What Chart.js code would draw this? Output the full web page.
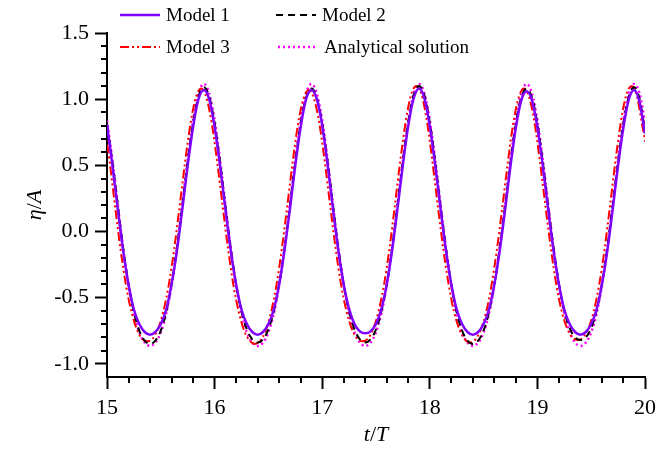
<!DOCTYPE html>
<html>
<head>
<meta charset="utf-8">
<script src="https://cdn.jsdelivr.net/npm/chart.js@4.4.0/dist/chart.umd.min.js"></script>
<style>
  html, body { margin: 0; padding: 0; background: #fff; }
  #wrap { width: 662px; height: 450px; }
</style>
</head>
<body>
<div id="wrap"><canvas id="waveChart" width="662" height="450"></canvas></div>
<script>
// t/T sample times (Model 1, Model 2, analytical)
const times = [
  15, 15.05, 15.1, 15.15, 15.2, 15.25, 15.3, 15.35, 15.4, 15.45, 15.5, 15.55, 15.6, 15.65, 15.7, 15.75, 15.8, 15.85, 15.9, 15.95,
  16, 16.05, 16.1, 16.15, 16.2, 16.25, 16.3, 16.35, 16.4, 16.45, 16.5, 16.55, 16.6, 16.65, 16.7, 16.75, 16.8, 16.85, 16.9, 16.95,
  17, 17.05, 17.1, 17.15, 17.2, 17.25, 17.3, 17.35, 17.4, 17.45, 17.5, 17.55, 17.6, 17.65, 17.7, 17.75, 17.8, 17.85, 17.9, 17.95,
  18, 18.05, 18.1, 18.15, 18.2, 18.25, 18.3, 18.35, 18.4, 18.45, 18.5, 18.55, 18.6, 18.65, 18.7, 18.75, 18.8, 18.85, 18.9, 18.95,
  19, 19.05, 19.1, 19.15, 19.2, 19.25, 19.3, 19.35, 19.4, 19.45, 19.5, 19.55, 19.6, 19.65, 19.7, 19.75, 19.8, 19.85, 19.9, 19.95,
  20
];

// Model 3 is read on its own grid (it runs a little ahead of the others)
const timesModel3 = [
  14.975, 15.025, 15.075, 15.125, 15.175, 15.225, 15.275, 15.325, 15.375, 15.425, 15.475, 15.525, 15.575, 15.625, 15.675, 15.725, 15.775, 15.825, 15.875, 15.925,
  15.975, 16.025, 16.075, 16.125, 16.175, 16.225, 16.275, 16.325, 16.375, 16.425, 16.475, 16.525, 16.575, 16.625, 16.675, 16.725, 16.775, 16.825, 16.875, 16.925,
  16.975, 17.025, 17.075, 17.125, 17.175, 17.225, 17.275, 17.325, 17.375, 17.425, 17.475, 17.525, 17.575, 17.625, 17.675, 17.725, 17.775, 17.825, 17.875, 17.925,
  17.975, 18.025, 18.075, 18.125, 18.175, 18.225, 18.275, 18.325, 18.375, 18.425, 18.475, 18.525, 18.575, 18.625, 18.675, 18.725, 18.775, 18.825, 18.875, 18.925,
  18.975, 19.025, 19.075, 19.125, 19.175, 19.225, 19.275, 19.325, 19.375, 19.425, 19.475, 19.525, 19.575, 19.625, 19.675, 19.725, 19.775, 19.825, 19.875, 19.925,
  19.975, 20.025
];

const model1 = [
  0.81, 0.50, 0.17, -0.145, -0.40, -0.59, -0.70, -0.76, -0.78, -0.76, -0.70, -0.59, -0.40, -0.145, 0.17, 0.50, 0.79, 1.00, 1.07, 1.00,
  0.79, 0.50, 0.17, -0.145, -0.40, -0.59, -0.70, -0.76, -0.78, -0.76, -0.70, -0.59, -0.40, -0.14, 0.17, 0.50, 0.79, 1.00, 1.07, 1.00,
  0.80, 0.505, 0.17, -0.145, -0.40, -0.585, -0.70, -0.755, -0.77, -0.755, -0.70, -0.585, -0.40, -0.14, 0.175, 0.505, 0.80, 1.005, 1.08, 1.005,
  0.795, 0.50, 0.17, -0.145, -0.40, -0.59, -0.70, -0.76, -0.78, -0.76, -0.70, -0.59, -0.40, -0.145, 0.165, 0.495, 0.785, 0.99, 1.06, 0.99,
  0.785, 0.495, 0.165, -0.145, -0.40, -0.59, -0.70, -0.76, -0.78, -0.76, -0.70, -0.59, -0.40, -0.145, 0.17, 0.50, 0.79, 1.00, 1.07, 0.975,
  0.74
];

const model2 = [
  0.80, 0.53, 0.20, -0.125, -0.40, -0.61, -0.75, -0.825, -0.85, -0.825, -0.75, -0.61, -0.40, -0.125, 0.20, 0.53, 0.82, 1.02, 1.09, 1.02,
  0.82, 0.53, 0.195, -0.125, -0.40, -0.605, -0.74, -0.815, -0.84, -0.815, -0.74, -0.605, -0.40, -0.125, 0.195, 0.525, 0.815, 1.01, 1.08, 1.01,
  0.815, 0.53, 0.20, -0.125, -0.40, -0.605, -0.74, -0.815, -0.84, -0.815, -0.74, -0.605, -0.40, -0.125, 0.20, 0.535, 0.83, 1.03, 1.10, 1.03,
  0.825, 0.53, 0.195, -0.125, -0.40, -0.61, -0.75, -0.825, -0.85, -0.825, -0.75, -0.61, -0.40, -0.125, 0.195, 0.525, 0.815, 1.01, 1.08, 1.01,
  0.815, 0.525, 0.195, -0.12, -0.395, -0.60, -0.73, -0.80, -0.82, -0.80, -0.73, -0.60, -0.395, -0.12, 0.20, 0.53, 0.82, 1.02, 1.09, 1.00,
  0.76
];

const model3 = [
  0.82, 0.525, 0.19, -0.13, -0.40, -0.60, -0.735, -0.81, -0.83, -0.81, -0.735, -0.60, -0.40, -0.13, 0.19, 0.52, 0.81, 1.01, 1.08, 1.01,
  0.81, 0.52, 0.19, -0.13, -0.405, -0.61, -0.75, -0.825, -0.85, -0.825, -0.75, -0.61, -0.405, -0.13, 0.19, 0.52, 0.81, 1.00, 1.07, 1.00,
  0.81, 0.52, 0.19, -0.13, -0.40, -0.60, -0.735, -0.81, -0.83, -0.81, -0.735, -0.60, -0.40, -0.13, 0.195, 0.53, 0.825, 1.03, 1.10, 1.03,
  0.825, 0.525, 0.19, -0.13, -0.40, -0.605, -0.74, -0.815, -0.84, -0.815, -0.74, -0.605, -0.40, -0.13, 0.19, 0.52, 0.815, 1.01, 1.08, 1.01,
  0.815, 0.52, 0.19, -0.125, -0.40, -0.60, -0.73, -0.80, -0.82, -0.80, -0.73, -0.60, -0.40, -0.13, 0.195, 0.53, 0.825, 1.03, 1.10, 1.02,
  0.80, 0.58
];

const analytical = [
  0.84, 0.543, 0.205, -0.125, -0.407, -0.621, -0.762, -0.84, -0.865, -0.84, -0.762, -0.621, -0.407, -0.125, 0.205, 0.543, 0.84, 1.042, 1.115, 1.042,
  0.84, 0.543, 0.205, -0.125, -0.407, -0.621, -0.762, -0.84, -0.865, -0.84, -0.762, -0.621, -0.407, -0.125, 0.205, 0.543, 0.84, 1.042, 1.115, 1.042,
  0.84, 0.543, 0.205, -0.125, -0.407, -0.621, -0.762, -0.84, -0.865, -0.84, -0.762, -0.621, -0.407, -0.125, 0.205, 0.543, 0.84, 1.042, 1.115, 1.042,
  0.84, 0.543, 0.205, -0.125, -0.407, -0.621, -0.762, -0.84, -0.865, -0.84, -0.762, -0.621, -0.407, -0.125, 0.205, 0.543, 0.84, 1.042, 1.115, 1.042,
  0.84, 0.543, 0.205, -0.125, -0.407, -0.621, -0.762, -0.84, -0.865, -0.84, -0.762, -0.621, -0.407, -0.125, 0.205, 0.543, 0.84, 1.042, 1.115, 1.042,
  0.83
];

const seriesLabels = ['Model 1', 'Model 2', 'Model 3', 'Analytical solution'];
const xTicks = [15, 16, 17, 18, 19, 20];
const yTicks = [-1.0, -0.5, 0.0, 0.5, 1.0, 1.5];

const serif = "'Liberation Serif', 'Times New Roman', serif";
Chart.defaults.font.family = serif;
Chart.defaults.color = '#000';

function pairs(ts, vs) {
  return ts.map((t, i) => ({ x: t, y: vs[i] }));
}

// legend, minor ticks and axis titles drawn on top of the chart
const decorations = {
  id: 'decorations',
  afterDraw(chart) {
    const { ctx, chartArea } = chart;
    const xs = chart.scales.x;
    const ys = chart.scales.y;
    ctx.save();

    // minor ticks
    ctx.strokeStyle = '#000';
    ctx.lineWidth = 2;
    ctx.setLineDash([]);
    ctx.beginPath();
    for (let i = 76; i < 100; i++) {
      if (i % 5 === 0) continue;
      const px = Math.round(xs.getPixelForValue(i / 5));
      ctx.moveTo(px, chartArea.bottom);
      ctx.lineTo(px, chartArea.bottom + 6);
    }
    for (let i = -10; i < 15; i++) {
      if (i % 5 === 0) continue;
      const py = Math.round(ys.getPixelForValue(i / 10));
      ctx.moveTo(chartArea.left, py);
      ctx.lineTo(chartArea.left - 6, py);
    }
    ctx.stroke();

    // legend
    const slots = [[120, 15], [276, 15], [120, 47], [278, 47]];
    ctx.font = '19px ' + serif;
    ctx.textBaseline = 'middle';
    ctx.textAlign = 'left';
    chart.data.datasets.forEach((ds, i) => {
      const [lx, ly] = slots[i];
      ctx.beginPath();
      ctx.strokeStyle = ds.borderColor;
      ctx.lineWidth = ds.borderWidth;
      ctx.setLineDash(ds.borderDash || []);
      ctx.moveTo(lx, ly);
      ctx.lineTo(lx + 40, ly);
      ctx.stroke();
      ctx.fillStyle = '#000';
      ctx.fillText(ds.label, lx + 46, ly + 1);
    });
    ctx.setLineDash([]);

    // axis titles with italic symbols
    const drawMixed = (parts, cx, cy, rot) => {
      ctx.save();
      ctx.translate(cx, cy);
      ctx.rotate(rot);
      let w = 0;
      parts.forEach(p => { ctx.font = p[1] + ' 22px ' + serif; w += ctx.measureText(p[0]).width; });
      let x = -w / 2;
      ctx.textBaseline = 'middle';
      parts.forEach(p => {
        ctx.font = p[1] + ' 22px ' + serif;
        ctx.fillText(p[0], x, 0);
        x += ctx.measureText(p[0]).width;
      });
      ctx.restore();
    };
    ctx.fillStyle = '#000';
    drawMixed([['η', 'italic'], ['/', 'normal'], ['A', 'italic']], 35, (chartArea.top + chartArea.bottom) / 2, -Math.PI / 2);
    drawMixed([['t', 'italic'], ['/', 'normal'], ['T', 'italic']], (chartArea.left + chartArea.right) / 2, 435, 0);

    ctx.restore();
  }
};

new Chart(document.getElementById('waveChart'), {
  type: 'line',
  data: {
    datasets: [
      { label: seriesLabels[0], data: pairs(times, model1), borderColor: 'rgb(127,0,255)', borderWidth: 2.5 },
      { label: seriesLabels[1], data: pairs(times, model2), borderColor: '#000000', borderWidth: 2, borderDash: [7, 5] },
      { label: seriesLabels[2], data: pairs(timesModel3, model3), borderColor: '#ff0000', borderWidth: 2, borderDash: [9, 3, 2, 3, 2, 3] },
      { label: seriesLabels[3], data: pairs(times, analytical), borderColor: '#ff00ff', borderWidth: 2.5, borderDash: [2, 3] }
    ]
  },
  options: {
    responsive: false,
    animation: false,
    devicePixelRatio: 1,
    layout: { padding: { top: 33, right: 16, left: 0, bottom: 0 } },
    elements: {
      point: { radius: 0 },
      line: { cubicInterpolationMode: 'monotone', fill: false }
    },
    plugins: {
      legend: { display: false },
      tooltip: { enabled: false }
    },
    scales: {
      x: {
        type: 'linear',
        min: 15,
        max: 20,
        afterFit: s => { s.height = 73; },
        afterBuildTicks: s => { s.ticks = xTicks.map(v => ({ value: v })); },
        ticks: { font: { size: 22 }, padding: 6, maxRotation: 0, autoSkip: false, callback: v => String(v) },
        grid: { drawOnChartArea: false, drawTicks: true, tickLength: 12, tickWidth: 2, tickColor: '#000' },
        border: { display: true, color: '#000', width: 2 }
      },
      y: {
        type: 'linear',
        min: -1.1,
        max: 1.5,
        afterFit: s => { s.width = 107; },
        afterBuildTicks: s => { s.ticks = yTicks.map(v => ({ value: v })); },
        ticks: { font: { size: 22 }, padding: 6, autoSkip: false, callback: v => v.toFixed(1) },
        grid: { drawOnChartArea: false, drawTicks: true, tickLength: 12, tickWidth: 2, tickColor: '#000' },
        border: { display: true, color: '#000', width: 2 }
      }
    }
  },
  plugins: [decorations]
});
</script>
</body>
</html>
